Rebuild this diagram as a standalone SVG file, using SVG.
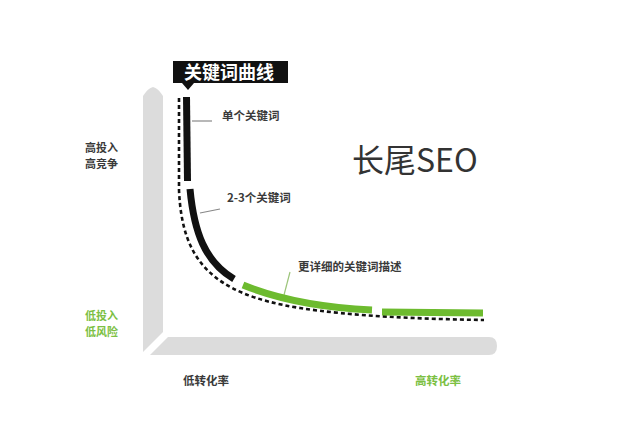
<svg xmlns="http://www.w3.org/2000/svg" width="618" height="426" viewBox="0 0 618 426">
  <style>
    .lbl { font-family: "Noto Sans CJK SC", "Noto Sans", sans-serif; font-size: 11.5px; font-weight: bold; fill: #3a3a3a; }
    .glbl { font-family: "Noto Sans CJK SC", "Noto Sans", sans-serif; font-size: 11.5px; font-weight: bold; fill: #7cc043; }
    .side { font-size: 11px; }
    .axis { fill: #dcdcdc; }
    .blk { fill: none; stroke: #111; stroke-width: 7; }
    .grn { fill: none; stroke: #6dbb2f; stroke-width: 7; }
    .leader { fill: none; stroke: #888; stroke-width: 1.2; }
  </style>
  <rect width="618" height="426" fill="#ffffff"/>

  <g id="axes">
    <path class="axis" d="M143,96 Q148,88 153,87 Q158,88 163,96 L163,332 L143,352 Z"/>
    <path class="axis" d="M168,337 L489,337 Q497,337 497,346 Q497,355 489,355 L150,355 Z"/>
  </g>

  <g id="connectors">
    <path fill="none" stroke="#111" stroke-width="2.6" stroke-dasharray="4 3" d="M179,98 L179,190 C182,260 211,294 300,308 C350,316 420,319 484,320"/>
    <path class="leader" d="M192,121 L212,121"/>
    <path class="leader" d="M200,213 L220,209"/>
    <path fill="none" stroke="#9cc47a" stroke-width="1.2" d="M290,272 L284,295"/>
  </g>

  <g id="curve-single">
    <path class="blk" d="M186.5,97 L187.5,181"/>
  </g>
  <g id="curve-two-three">
    <path class="blk" d="M190,189 C194,232 205,262 234,279"/>
  </g>
  <g id="curve-long-tail">
    <path class="grn" d="M243,285 C270,296 310,307 372,310"/>
    <path class="grn" d="M382,312 L483,313"/>
  </g>

  <g id="tag">
    <rect x="173" y="61" width="115" height="22" fill="#111"/>
    <path d="M182,83 L188,90 L194,83 Z" fill="#111"/>
    <text x="229" y="79" text-anchor="middle" font-family="Noto Sans CJK SC, Noto Sans, sans-serif" font-size="18" font-weight="bold" fill="#ffffff">关键词曲线</text>
  </g>

  <g id="label-single"><text class="lbl" x="222" y="120">单个关键词</text></g>
  <g id="label-two-three"><text class="lbl" x="227" y="202">2-3个关键词</text></g>
  <g id="label-detail"><text class="lbl" x="298" y="271">更详细的关键词描述</text></g>

  <g id="title"><text x="352" y="172" font-family="Noto Sans CJK SC, Noto Sans, sans-serif" font-size="32" fill="#333">长尾SEO</text></g>

  <g id="y-high">
    <text class="lbl side" x="85" y="152">高投入</text>
    <text class="lbl side" x="85" y="168">高竞争</text>
  </g>
  <g id="y-low">
    <text class="glbl side" x="85" y="320">低投入</text>
    <text class="glbl side" x="85" y="336">低风险</text>
  </g>
  <g id="x-low"><text class="lbl" x="183" y="385">低转化率</text></g>
  <g id="x-high"><text class="glbl" x="415" y="385">高转化率</text></g>
</svg>
